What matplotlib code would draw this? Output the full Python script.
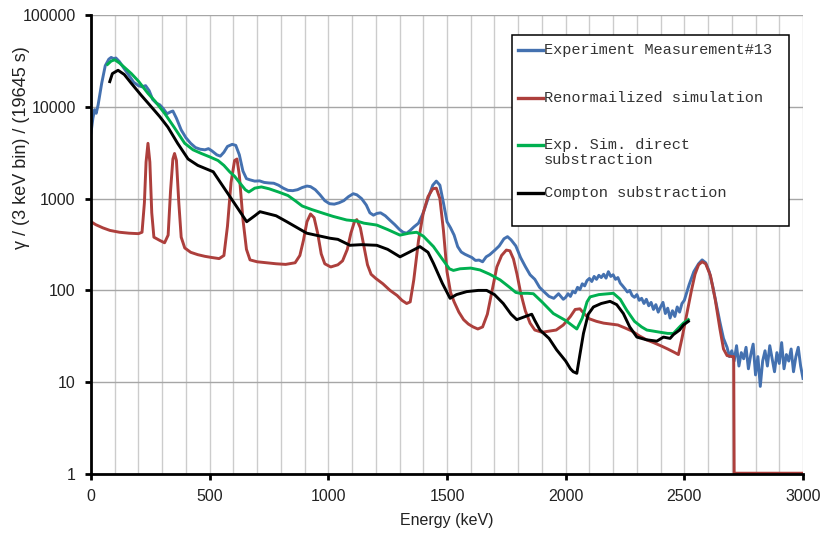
import numpy as np
import matplotlib
matplotlib.use('Agg')
from matplotlib import pyplot as plt
from matplotlib.lines import Line2D
from matplotlib.patches import Rectangle
from matplotlib.ticker import FixedLocator, NullLocator, FuncFormatter

# Experiment Measurement#13 (energy keV, counts)
exp_e = [0, 8, 15, 22, 30, 45, 60, 75, 85, 95, 105, 120, 140, 160, 180, 200, 215, 230,
         245, 260, 275, 290, 305, 320, 335, 345, 360, 380, 400, 420, 440, 460, 480, 495,
         510, 530, 545, 560, 575, 595, 610, 625, 640, 655, 670, 690, 710, 730, 750, 770,
         790, 810, 830, 850, 870, 890, 910, 925, 945, 965, 985, 1005, 1025, 1045, 1065,
         1085, 1105, 1120, 1140, 1160, 1175, 1190, 1205, 1220, 1240, 1260, 1280, 1300,
         1315, 1330, 1345, 1360, 1380, 1400, 1420, 1440, 1455, 1470, 1485, 1500, 1515,
         1530, 1545, 1560, 1575, 1590, 1605, 1620, 1635, 1650, 1665, 1680, 1700, 1720,
         1740, 1755, 1770, 1790, 1810, 1830, 1850, 1870, 1890, 1910, 1930, 1950, 1970,
         1990,
         2000, 2010, 2020, 2030, 2040, 2050, 2060, 2070, 2080, 2090, 2100, 2110, 2120,
         2130, 2140, 2150, 2160, 2170, 2180, 2190, 2200, 2210, 2220, 2230, 2240, 2250,
         2260, 2270, 2280, 2290, 2300, 2310, 2320, 2330, 2340, 2350, 2360, 2370, 2380,
         2390, 2400, 2410, 2420, 2430, 2440, 2450, 2460, 2470, 2480, 2490, 2500, 2510,
         2520, 2540, 2560, 2575, 2590, 2605, 2620, 2635, 2650, 2665,
         2680, 2690, 2700, 2710, 2720, 2730, 2740, 2750, 2760, 2770, 2780, 2790, 2800,
         2810, 2820, 2830, 2840, 2850, 2860, 2870, 2880, 2890, 2900, 2910, 2920, 2930,
         2940, 2950, 2960, 2970, 2980, 2990, 3000]
exp_v = [5200, 7500, 9300, 8500, 10500, 18000, 28000, 33000, 34500, 33500, 34000, 31000,
         26000, 22000, 18500, 17000, 16500, 17000, 15000, 12000, 11000, 10500, 9500, 8400,
         8800, 9000, 7500, 5600, 4600, 4000, 3600, 3450, 3400, 3500, 3300, 3000, 2900,
         3200, 3700, 3900, 3800, 3000, 2000, 1650, 1600, 1550, 1560, 1500, 1480, 1470,
         1400, 1300, 1230, 1220, 1250, 1320, 1370, 1350, 1250, 1100, 950, 880, 870, 900,
         950, 1050, 1130, 1100, 1000, 850, 700, 660, 690, 700, 650, 580, 520, 460, 430,
         420, 450, 490, 540, 700, 1000, 1400, 1550, 1400, 900, 560, 480, 400, 300, 262,
         248, 238, 228, 212, 214, 205, 232, 245, 272, 305, 365, 385, 355, 305, 228, 182,
         148, 132, 108, 96, 86, 82, 92, 80,
         84, 92, 86, 98, 94, 108, 102, 118, 112, 128, 135, 125, 142, 132, 146, 138, 150,
         136, 160, 142, 148, 132, 138, 120, 112, 104, 96, 100, 88, 84, 90, 78, 82, 72, 80,
         68, 74, 62, 70, 58, 66, 74, 56, 64, 50, 60, 52, 66, 58, 72, 78, 95,
         115, 160, 195, 215, 200, 160, 110, 70, 45, 30,
         24, 19, 22, 17, 25, 15, 21, 18, 24, 14, 20, 26, 12, 19, 9, 17, 22, 15, 25, 18,
         13, 21, 16, 27, 14, 20, 17, 23, 13, 19, 24, 15, 11]

# Renormailized simulation
sim_e = [0, 20, 50, 80, 120, 160, 200, 215, 225, 232, 240, 248, 256, 265, 290, 310, 325,
         335, 345, 352, 360, 370, 380, 395, 420, 450, 480, 510, 540, 560, 575, 590, 605,
         615, 625, 640, 655, 670, 700, 740, 780, 820, 860, 880, 895, 910, 925, 940, 955,
         970, 985, 1010, 1040, 1060, 1080, 1095, 1110, 1120, 1135, 1150, 1165, 1180, 1200,
         1230, 1260, 1290, 1310, 1330, 1345, 1360, 1380, 1400, 1420, 1440, 1455, 1470,
         1485, 1500, 1515, 1530, 1550, 1570, 1590, 1610, 1630, 1650, 1670, 1690, 1710,
         1730, 1750, 1765, 1780, 1795, 1810, 1830, 1850, 1870, 1900, 1930, 1960, 1990,
         2020, 2040, 2060, 2080, 2100, 2130, 2160, 2190, 2220, 2250, 2280, 2310, 2340,
         2370, 2400, 2430, 2460, 2475, 2490, 2510, 2530, 2545, 2560, 2575, 2590, 2610,
         2630, 2650, 2665, 2680, 2700, 2708, 2710, 3000]
sim_v = [560, 520, 480, 450, 430, 420, 415, 430, 900, 2500, 4000, 2500, 700, 380, 350,
         330, 400, 1200, 2700, 3100, 2600, 900, 380, 290, 260, 245, 235, 228, 222, 240,
         500, 1500, 2600, 2700, 1800, 600, 280, 215, 205, 200, 195, 192, 200, 240, 350,
         560, 680, 620, 420, 250, 195, 180, 190, 210, 280, 420, 560, 590, 480, 300, 190,
         150, 135, 118, 100, 88, 78, 72, 75, 130, 350, 700, 1050, 1280, 1300, 1000, 450,
         160, 95, 75, 58, 48, 43, 40, 38, 40, 55, 100, 180, 240, 275, 270, 220, 150, 95,
         60, 44, 37, 35, 36, 37, 42, 52, 62, 63, 55, 49, 46, 44, 43, 42, 39, 36, 32, 29,
         27, 25, 23, 21, 20, 30, 55, 100, 150, 190, 205, 195, 145, 80, 38, 23, 19.5, 19,
         19, 1.02, 1.02]

# Exp. Sim. direct substraction
dir_e = [70, 85, 100, 120, 140, 170, 200, 240, 270, 310, 350, 395, 430, 465, 500, 535,
         560, 585, 605, 630, 650, 665, 690, 718, 750, 790, 830, 860, 890, 930, 980, 1020,
         1077, 1120, 1150, 1204, 1250, 1302, 1340, 1372, 1400, 1443, 1480, 1510, 1527,
         1555, 1600, 1639, 1680, 1724, 1760, 1790, 1808, 1840, 1864, 1900, 1948, 2000,
         2030, 2047, 2070, 2090, 2103, 2140, 2201, 2230, 2257, 2290, 2320, 2342, 2370,
         2398, 2430, 2454, 2480, 2496, 2517]
dir_v = [29000, 31500, 32500, 30000, 27000, 23000, 19000, 14000, 11500, 8500, 6000, 4000,
         3400, 3100, 2850, 2600, 2300, 1950, 1750, 1450, 1250, 1180, 1300, 1340, 1280,
         1180, 1080, 950, 830, 760, 690, 640, 585, 570, 540, 515, 460, 400, 420, 430, 390,
         300, 220, 172, 165, 172, 175, 167, 150, 130, 110, 95, 93, 93, 92, 75, 56, 47, 41,
         38, 50, 75, 85, 90, 93, 80, 61, 46, 40, 37, 36, 35, 34, 34, 40, 44, 48]

# Compton substraction
cmp_e = [79, 90, 114, 140, 170, 210, 254, 290, 324, 365, 409, 450, 515, 557, 614, 656,
         690, 712, 780, 825, 909, 1007, 1040, 1091, 1140, 1204, 1250, 1302, 1340, 1386,
         1420, 1443, 1480, 1513, 1540, 1583, 1632, 1667, 1700, 1737, 1770, 1794, 1830,
         1857, 1870, 1892, 1930, 1962, 2000, 2020, 2032, 2047, 2060, 2075, 2095, 2117,
         2150, 2187, 2215, 2243, 2270, 2300, 2340, 2384, 2412, 2440, 2454, 2480, 2496, 2517]
cmp_v = [18800, 23000, 25000, 22500, 18000, 13500, 10000, 7800, 6000, 4000, 2700, 2300,
         1960, 1350, 815, 560, 650, 720, 650, 560, 420, 370, 360, 310, 315, 310, 280, 232,
         260, 300, 260, 197, 120, 82, 90, 97, 100, 100, 90, 72, 55, 48, 52, 55, 47, 37,
         30, 22.5, 17, 14, 13, 12.5, 20, 34, 55, 66, 72, 76, 70, 56, 40, 31, 29, 28, 31,
         30, 33, 37, 42, 46]

labels = ['Experiment Measurement#13', 'Renormailized simulation',
          'Exp. Sim. direct\nsubstraction', 'Compton substraction']
colors = ['#4471b0', '#ad3f3c', '#00b050', '#000000']

W, H = 821, 534
fig = plt.figure(figsize=(W / 100, H / 100), dpi=100)
ax = fig.add_axes([91 / W, 1 - 474 / H, (803 - 91) / W, (474 - 15) / H])

ax.plot(exp_e, exp_v, color=colors[0], lw=2.1, zorder=3)
ax.plot(sim_e, sim_v, color=colors[1], lw=2.1, zorder=3)
ax.plot(dir_e, dir_v, color=colors[2], lw=2.1, zorder=4)
ax.plot(cmp_e, cmp_v, color=colors[3], lw=2.1, zorder=5)

ax.set_yscale('log')
ax.set_xlim(0, 3000)
ax.set_ylim(1, 100000)
ax.xaxis.set_major_locator(FixedLocator(range(0, 3001, 500)))
ax.xaxis.set_minor_locator(FixedLocator(range(0, 3001, 100)))
ax.yaxis.set_major_locator(FixedLocator([1, 10, 100, 1000, 10000, 100000]))
ax.yaxis.set_minor_locator(NullLocator())
ax.yaxis.set_major_formatter(FuncFormatter(lambda v, p: '%d' % v))

ax.grid(True, which='minor', axis='x', color='#cccccc', lw=1.0, zorder=0)
ax.grid(True, which='major', axis='x', color='#cccccc', lw=1.0, zorder=0)
ax.grid(True, which='major', axis='y', color='#a6a6a6', lw=1.0, zorder=0)
ax.set_axisbelow(True)

for s in ['top', 'right']:
    ax.spines[s].set_visible(False)
for s in ['left', 'bottom']:
    ax.spines[s].set_linewidth(2.0)
    ax.spines[s].set_zorder(6)

ax.tick_params(which='major', direction='out', length=4, width=2, pad=7,
               labelsize=11.5, colors='black')
ax.tick_params(which='minor', length=0)
for t in ax.get_xticklabels() + ax.get_yticklabels():
    t.set_fontfamily('Liberation Sans')
    t.set_color('#222222')

ax.set_xlabel('Energy (keV)', fontsize=11.5, family='Liberation Sans', color='#222222',
              labelpad=6)
ax.set_ylabel('γ / (3 keV bin) / (19645 s)', fontsize=13, family='Liberation Sans',
              color='#222222')
ax.yaxis.set_label_coords(-0.085, 0.71)

# legend box drawn by hand (figure pixels)
def fx(px):
    return px / W

def fy(py):
    return 1 - py / H

fig.add_artist(Rectangle((fx(512), fy(226)), fx(789) - fx(512), fy(35) - fy(226),
                         transform=fig.transFigure, facecolor='white',
                         edgecolor='black', lw=1.1, zorder=10))
rows = [50, 98, 145, 193]
for lab, col, ry in zip(labels, colors, rows):
    fig.add_artist(Line2D([fx(518), fx(543)], [fy(ry), fy(ry)], color=col, lw=2.4,
                          transform=fig.transFigure, zorder=11))
    fig.text(fx(544), fy(ry - 7), lab, family='Liberation Mono', fontsize=11,
             va='top', ha='left', color='#333333', linespacing=1.1, zorder=12)

fig.savefig('out.png', dpi=100)
